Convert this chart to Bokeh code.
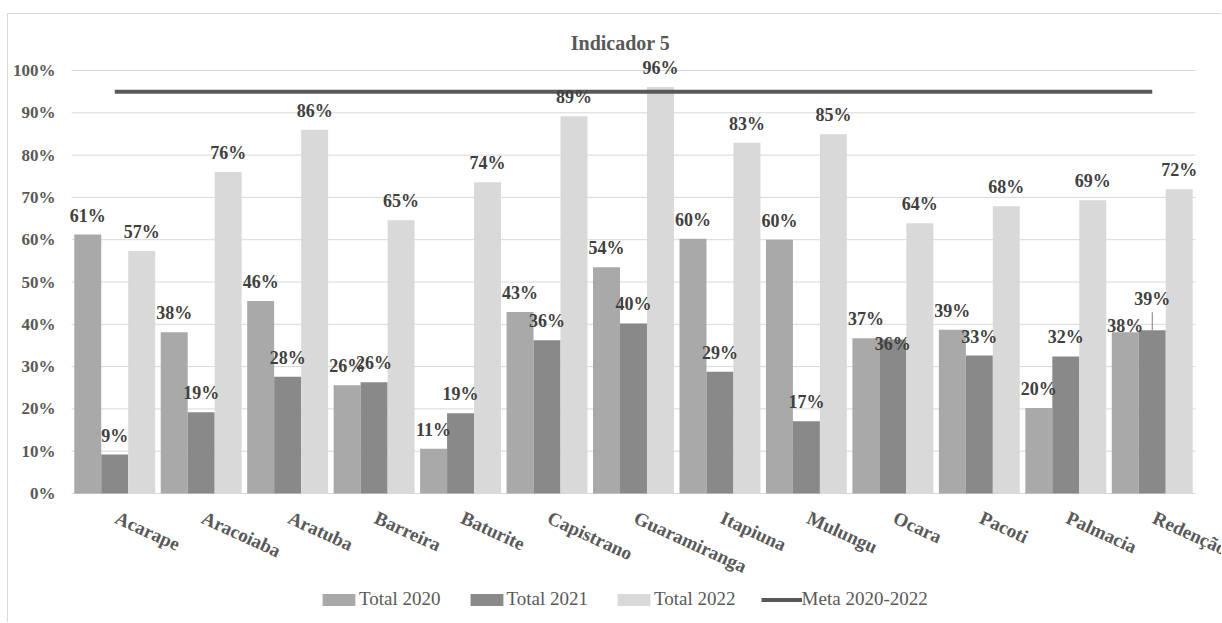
from bokeh.plotting import figure
from bokeh.models import ColumnDataSource, Range1d, LabelSet, Label, Legend, LegendItem
from bokeh.transform import dodge
from bokeh.embed import file_html
from bokeh.resources import INLINE

# Municipalities and the three yearly totals (percent), plus the 2020-2022 target
categories = ["Acarape", "Aracoiaba", "Aratuba", "Barreira", "Baturite", "Capistrano",
              "Guaramiranga", "Itapiuna", "Mulungu", "Ocara", "Pacoti", "Palmacia", "Redenção"]
total_2020 = [61.2, 38.1, 45.5, 25.6, 10.6, 42.9, 53.5, 60.2, 60.0, 36.7, 38.7, 20.2, 38.1]
total_2021 = [9.2, 19.2, 27.6, 26.3, 19.0, 36.2, 40.2, 28.8, 17.1, 36.4, 32.6, 32.4, 38.6]
total_2022 = [57.3, 76.0, 86.0, 64.6, 73.6, 89.2, 96.1, 82.9, 84.9, 63.9, 67.9, 69.3, 71.9]
meta_2020_2022 = 95
series_names = ["Total 2020", "Total 2021", "Total 2022"]
meta_name = "Meta 2020-2022"
y_ticks = [0, 10, 20, 30, 40, 50, 60, 70, 80, 90, 100]
chart_title = "Indicador 5"

SERIF = "Liberation Serif"
TEXT_GREY = "#595959"
LABEL_GREY = "#404040"
GRID_GREY = "#d9d9d9"
bar_colors = ["#a9a9a9", "#898989", "#d9d9d9"]
bar_width = 0.312
offsets = [-bar_width, 0.0, bar_width]

# The frame covers the whole chart area; the municipalities occupy unit slots
# 0..n-1 and the plot band starts plot_left px in from the left edge.
fig_w, fig_h = 1214, 609
n = len(categories)
slot_px = 86.46
plot_left = 63
zero_px = 479            # canvas row of the 0 % line
px_per_pct = 4.23
x_start = -0.5 - plot_left / slot_px
x_end = x_start + fig_w / slot_px
y_end = zero_px / px_per_pct
y_start = -(fig_h - zero_px) / px_per_pct
band_lo, band_hi = -0.5, n - 0.5

# data labels sit this many px above the bar top; a few are nudged to avoid collisions
label_lift = 19
label_nudge = {("Total 2021", "Ocara"): -4,
               ("Total 2020", "Redenção"): 6,
               ("Total 2021", "Redenção"): 31}

p = figure(x_range=Range1d(x_start, x_end), y_range=Range1d(y_start, y_end),
           width=fig_w, height=fig_h,
           min_border_left=0, min_border_right=0, min_border_top=0, min_border_bottom=0,
           x_axis_location=None, y_axis_location=None,
           output_backend="svg", toolbar_location=None,
           background_fill_color="white", border_fill_color="white")
p.outline_line_color = None
p.grid.visible = False
p.margin = (13, 0, 0, 7)
p.styles = {"border-left": "1px solid #d9d9d9", "border-top": "1px solid #d9d9d9"}

# horizontal grid across the plot band; the 0 % line doubles as the category axis
p.segment(x0=band_lo, x1=band_hi, y0=y_ticks, y1=y_ticks,
          line_color=GRID_GREY, line_width=1)

# percentage tick labels left of the band
tick_src = ColumnDataSource(dict(y=y_ticks, txt=[f"{t}%" for t in y_ticks],
                                 x=[band_lo] * len(y_ticks)))
p.add_layout(LabelSet(x="x", y="y", text="txt", source=tick_src, x_offset=-16,
                      text_align="right", text_baseline="middle", text_font=SERIF,
                      text_font_style="bold", text_font_size="17px",
                      text_color=TEXT_GREY))

# slanted municipality names under the 0 % line
cat_src = ColumnDataSource(dict(pos=list(range(n)), base=[0] * n, cat=categories))
p.add_layout(LabelSet(x="pos", y="base", text="cat", source=cat_src,
                      angle=-0.43, x_offset=-1, y_offset=-29, text_align="left",
                      text_baseline="alphabetic", text_font=SERIF,
                      text_font_style="bold", text_font_size="19px",
                      text_color=TEXT_GREY))

legend_items = []
series_values = [total_2020, total_2021, total_2022]
for name, vals, off, col in zip(series_names, series_values, offsets, bar_colors):
    lifts = [label_nudge.get((name, c), label_lift) for c in categories]
    src = ColumnDataSource(dict(pos=list(range(n)), val=vals,
                                txt=[f"{round(v)}%" for v in vals], lift=lifts))
    r = p.vbar(x=dodge("pos", off), top="val", width=bar_width,
               source=src, fill_color=col, line_color=None)
    legend_items.append(LegendItem(label=name, renderers=[r]))
    p.add_layout(LabelSet(x=dodge("pos", off), y="val", text="txt",
                          y_offset="lift", source=src, text_align="center",
                          text_baseline="middle", text_font=SERIF, text_font_style="bold",
                          text_font_size="18px", text_color=LABEL_GREY))

# leader line for the lifted Redenção 2021 label
last = n - 1
p.segment(x0=[last], x1=[last], y0=[total_2021[last]],
          y1=[total_2021[last] + 18 / px_per_pct], line_color="#7f7f7f", line_width=1)

# target line across all municipalities
meta_r = p.line(x=[0, last], y=[meta_2020_2022, meta_2020_2022],
                line_color="#595959", line_width=4)
legend_items.append(LegendItem(label=meta_name, renderers=[meta_r]))

legend = Legend(items=legend_items, orientation="horizontal", location=(310, 13),
                glyph_width=41, glyph_height=15, label_standoff=0, spacing=25,
                padding=0, margin=0, border_line_color=None, background_fill_alpha=0,
                label_text_font=SERIF, label_text_font_size="19px",
                label_text_color=TEXT_GREY, label_height=20)
p.add_layout(legend)

title = Label(x=612, y=581, x_units="screen", y_units="screen",
              text=chart_title, text_align="center", text_baseline="middle",
              text_font=SERIF, text_font_style="bold", text_font_size="20px",
              text_color=TEXT_GREY)
p.add_layout(title)

open("out.html", "w").write(file_html(p, INLINE))
